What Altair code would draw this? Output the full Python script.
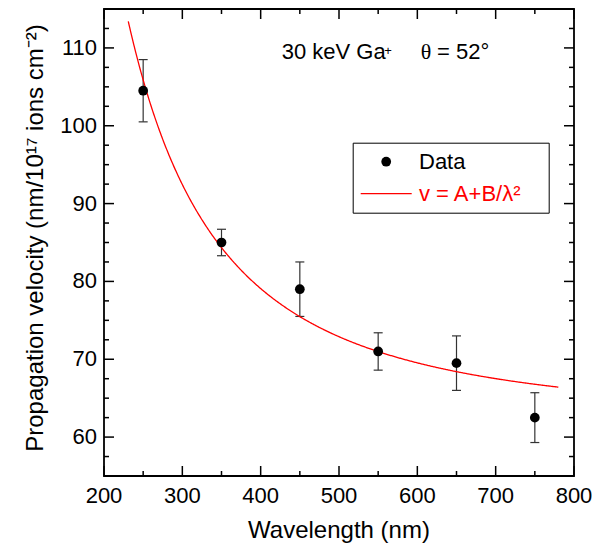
import altair as alt
import pandas as pd

# ---- values ----
wavelength = [250, 350, 450, 550, 650, 750]            # nm
velocity = [104.5, 85.0, 79.0, 71.0, 69.5, 62.5]       # nm / 1e17 ions cm^-2
error = [4.0, 1.7, 3.5, 2.4, 3.5, 3.2]

# fitted model v = A + B / lambda^2 (parameters)
fit_A = 61.9
fit_B = 2.749e6
fit_range = [231, 781]

series_labels = ["Data", "v = A+B/\u03bb\u00b2"]
x_domain = [200, 800]
y_domain = [55, 115]
x_major = [200, 300, 400, 500, 600, 700, 800]
x_minor = [250, 350, 450, 550, 650, 750]
y_major = [60, 70, 80, 90, 100, 110]
y_minor = [57.5, 62.5, 65, 67.5, 72.5, 75, 77.5, 82.5, 85, 87.5,
           92.5, 95, 97.5, 102.5, 105, 107.5, 112.5]

title_x = "Wavelength (nm)"
title_y = "Propagation velocity (nm/10\u00b9\u2077 ions cm\u207b\u00b2)"
ann_ion = "30 keV Ga"
ann_charge = "+"
ann_theta = "\u03b8"
ann_angle = "= 52\u00b0"

# ---- table ----
df = pd.DataFrame({"wavelength": wavelength, "velocity": velocity, "error": error})
df["lo"] = df["velocity"] - df["error"]
df["hi"] = df["velocity"] + df["error"]
df["series"] = series_labels[0]

W, H = 470, 467
FONT = "Liberation Sans"

xs = alt.Scale(domain=x_domain, nice=False, zero=False)
ys = alt.Scale(domain=y_domain, nice=False, zero=False)

base = alt.Chart(df)

bars = base.mark_rule(color="#333333", strokeWidth=1.2).encode(
    x=alt.X("wavelength:Q", scale=xs, axis=None),
    y=alt.Y("lo:Q", scale=ys, axis=None),
    y2="hi:Q",
)

caps_hi = base.mark_tick(orient="horizontal", size=9, thickness=1.2,
                         color="#333333", opacity=1).encode(
    x=alt.X("wavelength:Q", scale=xs, axis=None),
    y=alt.Y("hi:Q", scale=ys, axis=None),
)

caps_lo = base.mark_tick(orient="horizontal", size=9, thickness=1.2,
                         color="#333333", opacity=1).encode(
    x=alt.X("wavelength:Q", scale=xs, axis=None),
    y=alt.Y("lo:Q", scale=ys, axis=None),
)

legend = alt.Legend(
    title="\u200b", titleOrient="right", titlePadding=19, titleFontSize=1,
    orient="none", legendX=248.7, legendY=133.7,
    padding=8, strokeColor="black", fillColor="white",
    symbolType=alt.ExprRef(expr="datum.index == 0 ? 'circle' : 'stroke'"),
    symbolSize=alt.ExprRef(expr="datum.index == 0 ? 95 : 2601"),
    symbolStrokeWidth=alt.ExprRef(expr="datum.index == 0 ? 0 : 1.3"),
    symbolStrokeColor=alt.ExprRef(expr="datum.index == 0 ? 'black' : 'red'"),
    symbolOffset=14.5,
    labelColor=alt.ExprRef(expr="datum.index == 0 ? 'black' : 'red'"),
    labelFontSize=22, labelFont=FONT, labelOffset=21.8, rowPadding=10,
)

points = base.mark_point(filled=True, size=95, opacity=1).encode(
    x=alt.X("wavelength:Q", scale=xs, axis=None),
    y=alt.Y("velocity:Q", scale=ys, axis=None),
    color=alt.Color("series:N",
                    scale=alt.Scale(domain=series_labels, range=["black", "red"]),
                    legend=legend),
)

fit = alt.Chart(alt.sequence(fit_range[0], fit_range[1], 1, as_="wavelength")).transform_calculate(
    velocity=f"{fit_A} + {fit_B} / (datum.wavelength * datum.wavelength)"
).mark_line(color="red", strokeWidth=1.3).encode(
    x=alt.X("wavelength:Q", scale=xs, axis=None),
    y=alt.Y("velocity:Q", scale=ys, axis=None),
)


# ---- inward ticks on all four sides ----
def x_ticks(values, y0, y1):
    return alt.Chart(pd.DataFrame({"v": values})).mark_rule(
        color="black", strokeWidth=1.5
    ).encode(x=alt.X("v:Q", scale=xs, axis=None), y=alt.value(y0), y2=alt.value(y1))


def y_ticks(values, x0, x1):
    return alt.Chart(pd.DataFrame({"v": values})).mark_rule(
        color="black", strokeWidth=1.5
    ).encode(y=alt.Y("v:Q", scale=ys, axis=None), x=alt.value(x0), x2=alt.value(x1))


ticks = [
    x_ticks(x_major, H, H - 10), x_ticks(x_minor, H, H - 5),
    x_ticks(x_major, 0, 10), x_ticks(x_minor, 0, 5),
    y_ticks(y_major, 0, 10), y_ticks(y_minor, 0, 5),
    y_ticks(y_major, W, W - 10), y_ticks(y_minor, W, W - 5),
]

# ---- tick labels and axis titles ----
x_labels = alt.Chart(pd.DataFrame({"lab": x_major})).mark_text(
    align="center", baseline="top", fontSize=22, font=FONT, color="black"
).encode(x=alt.X("lab:Q", scale=xs, axis=None), y=alt.value(H + 10), text=alt.Text("lab:Q"))

y_labels = alt.Chart(pd.DataFrame({"lab": y_major})).mark_text(
    align="right", baseline="middle", fontSize=22, font=FONT, color="black"
).encode(y=alt.Y("lab:Q", scale=ys, axis=None), x=alt.value(-7), text=alt.Text("lab:Q"))

x_title = alt.Chart(pd.DataFrame({"label": [title_x]})).mark_text(
    align="center", baseline="alphabetic", fontSize=24, font=FONT, color="black"
).encode(x=alt.value(W / 2), y=alt.value(H + 62), text=alt.Text("label:N"))

y_title = alt.Chart(pd.DataFrame({"label": [title_y]})).mark_text(
    align="center", baseline="alphabetic", fontSize=24, font=FONT, color="black",
    angle=270,
).encode(x=alt.value(-61.5), y=alt.value(229), text=alt.Text("label:N"))


def text_layer(txt, x, y, size, font=FONT):
    return alt.Chart(pd.DataFrame({"label": [txt]})).mark_text(
        align="left", baseline="alphabetic", fontSize=size, font=font, color="black"
    ).encode(
        x=alt.XDatum(x, scale=xs, axis=None),
        y=alt.YDatum(y, scale=ys, axis=None),
        text=alt.Text("label:N"),
    )


annotations = [
    text_layer(ann_ion, 426.9, 108.54, 22),
    text_layer(ann_charge, 557.8, 109.12, 13),
    text_layer(ann_theta, 604.3, 108.54, 22, "Liberation Serif"),
    text_layer(ann_angle, 625.1, 108.54, 22),
]

chart = alt.layer(
    bars, caps_hi, caps_lo, fit, points, *ticks, *annotations,
    x_labels, y_labels, x_title, y_title,
).properties(
    width=W, height=H,
    padding={"left": 96, "right": 20, "top": 1, "bottom": 70},
    autosize=alt.AutoSizeParams(type="none"),
).configure(font=FONT).configure_view(stroke="black", strokeWidth=1.8)

chart.save("out.html", embed_options={"renderer": "svg", "actions": False})
